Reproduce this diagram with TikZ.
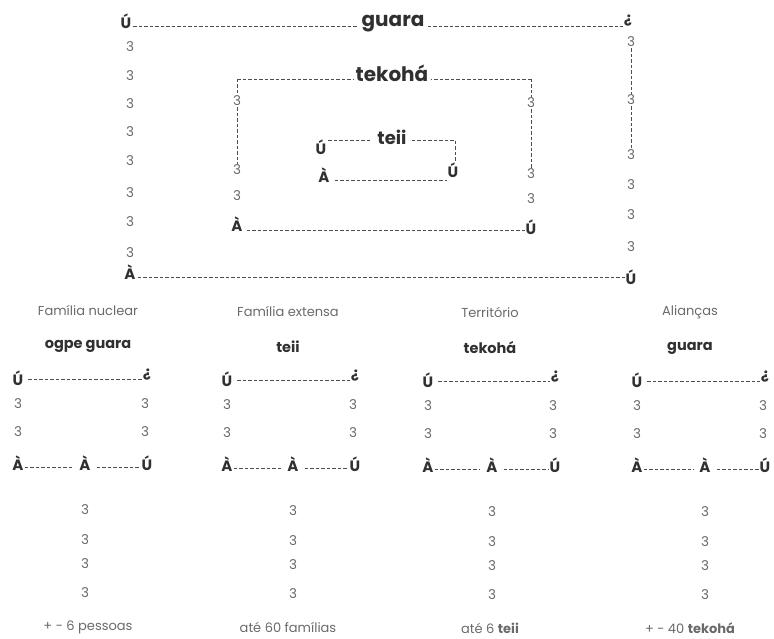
\documentclass[tikz,border=0pt]{standalone}
\usepackage{fontspec}
\setmainfont{Poppins}
\definecolor{ink}{HTML}{303030}
\definecolor{soft}{HTML}{6A6A6A}
\definecolor{dline}{HTML}{4E4E4E}
\begin{document}
\begin{tikzpicture}[x=1pt,y=-1pt,
  lbl/.style={font=\fontsize{15}{15}\selectfont\bfseries, text=ink, inner sep=1pt},
  big/.style={font=\fontsize{20}{20}\selectfont\bfseries, text=ink, inner sep=1pt},
  inn/.style={font=\fontsize{18}{18}\selectfont\bfseries, text=ink, inner sep=1pt},
  mid/.style={font=\fontsize{14.5}{15}\selectfont\bfseries, text=ink, inner sep=1pt},
  num/.style={font=\fontsize{13.5}{14}\selectfont, text=soft, inner sep=1pt},
  ttl/.style={font=\fontsize{13}{14}\selectfont, text=soft, inner sep=1pt},
  foot/.style={font=\fontsize{13}{14}\selectfont, text=soft, inner sep=1pt},
  dsh/.style={draw=dline, dash pattern=on 3.5pt off 2pt, line width=0.75pt}]
\useasboundingbox (0,0) rectangle (774,639);
% ---------- outer (guara)
\node[lbl] (gUL) at (126,21) {Ú};
\node[big] (gT) at (393,24) {guara};
\node[lbl] (gUR) at (628,21) {¿};
\draw[dsh] ([xshift=1pt,yshift=2pt]gUL.base east) -- ([xshift=-2pt,yshift=2pt]gUL.base east -| gT.west);
\draw[dsh] ([xshift=2pt,yshift=2pt]gUL.base east -| gT.east) -- ([yshift=2pt]gUL.base east -| gUR.west);
\foreach \y [count=\k] in {47,76,104,132,161,193,222,253}
  \node[num] (gl\k) at (130,\y) {3};
\node[lbl] (gLL) at (130,272) {À};
\foreach \y [count=\k] in {42,100,155,185,215,247}
  \node[num] (gr\k) at (631,\y) {3};
\node[lbl] (gLR) at (631,277) {Ú};
\draw[dsh] (gr1.south) -- (gr2.north);
\draw[dsh] (gr2.south) -- (gr3.north);
\draw[dsh] ([xshift=1pt,yshift=2pt]gLL.base east) -- ([yshift=2pt]gLL.base east -| gLR.west);
% ---------- middle (tekohá)
\node[big] (tT) at (392,73) {tekohá};
\coordinate (tTL) at (237,79);
\coordinate (tTR) at (531,79);
\draw[dsh] (tTL) -- ([xshift=-1pt]tTL -| tT.west);
\draw[dsh] (tTR) -- ([xshift=1pt]tTR -| tT.east);
\node[num] (tl1) at (237,101) {3};
\node[num] (tl2) at (237,170) {3};
\node[num] (tl3) at (237,196) {3};
\node[lbl] (tLL) at (237,224) {À};
\node[num] (tr1) at (531,103) {3};
\node[num] (tr2) at (531,174) {3};
\node[num] (tr3) at (531,199) {3};
\node[lbl] (tLR) at (531,227) {Ú};
\draw[dsh] (tTL) -- (tl1.north);
\draw[dsh] (tl1.south) -- (tl2.north);
\draw[dsh] (tTR) -- (tr1.north);
\draw[dsh] (tr1.south) -- (tr2.north);
\draw[dsh] ([xshift=3pt,yshift=1pt]tLL.base east) -- ([yshift=1pt]tLL.base east -| tLR.west);
% ---------- inner (teii)
\node[inn] (iT) at (392,137) {teii};
\node[lbl] (iUL) at (321,147) {Ú};
\coordinate (iTR) at (455,140);
\node[lbl] (iUR) at (453,170) {Ú};
\node[lbl] (iLL) at (324,175) {À};
\draw[dsh] ([xshift=1pt]iTR -| iUL.east) -- ([xshift=-4pt]iTR -| iT.west);
\draw[dsh] ([xshift=4pt]iTR -| iT.east) -- (iTR) -- ([yshift=-1pt]iUR.north -| iTR);
\draw[dsh] ([xshift=4pt,yshift=2pt]iLL.base east) -- ([yshift=2pt]iLL.base east -| iUR.west);
% ---------- bottom panels
\foreach \i/\xa/\xm/\xb/\xt/\dy/\ti/\lb/\ft in {
  1/18/85/147/88/0/{Família nuclear}/{ogpe guara}/{+ - 6 pessoas},
  2/227/293/355/288/1/{Família extensa}/{teii}/{até 60 famílias},
  3/428/492/555/490/2/{Território}/{tekohá}/{até 6 \textbf{teii}},
  4/637/705/765/690/2/{Alianças}/{guara}/{+ - 40 \textbf{tekohá}}} {
  \node[ttl] (ti\i) at (\xt,310+\dy) {\ti};
  \node[mid] (lb\i) at (\xt,346+\dy) {\lb};
  \node[lbl] (ul\i) at (\xa,378+\dy) {Ú};
  \node[lbl] (ur\i) at (\xb,375+\dy) {¿};
  \draw[dsh] ([xshift=4pt,yshift=6pt]ul\i.base east) -- ([yshift=6pt]ul\i.base east -| ur\i.west);
  \node[num] (a\i) at (\xa,404+\dy) {3};
  \node[num] (b\i) at (\xa,432+\dy) {3};
  \node[num] (c\i) at (\xb-2,404+\dy) {3};
  \node[num] (d\i) at (\xb-2,432+\dy) {3};
  \node[lbl] (ll\i) at (\xa,463+\dy) {À};
  \node[lbl] (lm\i) at (\xm,463+\dy) {À};
  \node[lbl] (lr\i) at (\xb,463+\dy) {Ú};
  \draw[dsh] ([yshift=3pt]ll\i.base east) -- ([xshift=-5pt,yshift=3pt]ll\i.base east -| lm\i.west);
  \draw[dsh] ([xshift=5pt,yshift=3pt]lm\i.base east) -- ([yshift=3pt]lm\i.base east -| lr\i.west);
  \node[num] (e\i) at (\xm,510+\dy) {3};
  \node[num] (f\i) at (\xm,540+\dy) {3};
  \node[num] (g\i) at (\xm,564+\dy) {3};
  \node[num] (h\i) at (\xm,593+\dy) {3};
  \node[foot] (ft\i) at (\xt,627+\dy/2) {\ft};
}
\end{tikzpicture}
\end{document}
